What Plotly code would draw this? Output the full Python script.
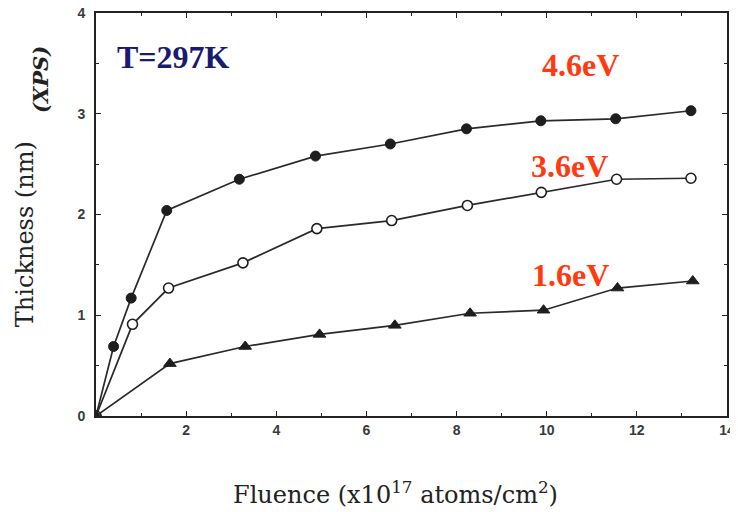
import plotly.graph_objects as go

# Data
x_46 = [0, 0.39, 0.78, 1.57, 3.18, 4.87, 6.53, 8.22, 9.87, 11.53, 13.2]
y_46 = [0, 0.69, 1.17, 2.04, 2.35, 2.58, 2.70, 2.85, 2.93, 2.95, 3.03]

x_36 = [0, 0.81, 1.61, 3.26, 4.90, 6.56, 8.24, 9.88, 11.55, 13.2]
y_36 = [0, 0.91, 1.27, 1.52, 1.86, 1.94, 2.09, 2.22, 2.35, 2.36]

x_16 = [0, 1.64, 3.31, 4.96, 6.63, 8.30, 9.93, 11.57, 13.24]
y_16 = [0, 0.52, 0.69, 0.81, 0.90, 1.02, 1.05, 1.27, 1.34]

x_ticks = [2, 4, 6, 8, 10, 12, 14]
y_ticks = [0, 1, 2, 3, 4]

line_col = "#2a2a2a"

fig = go.Figure()
fig.add_trace(go.Scatter(
    x=x_46, y=y_46, mode="lines+markers",
    line=dict(color=line_col, width=1.7),
    marker=dict(symbol="circle", size=10, color="#1e1e1e", line=dict(color="#1e1e1e", width=1)),
    name="4.6eV"))
fig.add_trace(go.Scatter(
    x=x_36, y=y_36, mode="lines+markers",
    line=dict(color=line_col, width=1.7),
    marker=dict(symbol="circle", size=10, color="white", line=dict(color="#1e1e1e", width=1.6)),
    name="3.6eV"))
fig.add_trace(go.Scatter(
    x=x_16, y=y_16, mode="lines+markers",
    line=dict(color=line_col, width=1.7),
    marker=dict(symbol="triangle-up", size=11, color="#1e1e1e", line=dict(color="#1e1e1e", width=1)),
    name="1.6eV"))

axis_common = dict(
    showline=True, linecolor="#222", linewidth=1.7, mirror="ticks",
    ticks="inside", ticklen=5, tickwidth=1.3, tickcolor="#222",
    showgrid=False, zeroline=False, ticklabeloverflow="allow",
    tickfont=dict(family="Liberation Sans, Arial, sans-serif", size=14, color="#3a3a3a", weight="bold"),
)

fig.update_xaxes(range=[0, 14], tickvals=x_ticks,
                 minor=dict(ticks="inside", dtick=1, ticklen=3, tickcolor="#222", showgrid=False),
                 **axis_common)
fig.update_yaxes(range=[0, 4], tickvals=y_ticks, ticklabelstandoff=6,
                 minor=dict(ticks="inside", dtick=0.5, ticklen=3, tickcolor="#222", showgrid=False),
                 **axis_common)

serif = "DejaVu Serif, serif"
tserif = "Liberation Serif, Times New Roman, serif"

fig.add_annotation(xref="paper", yref="paper", x=-0.112, y=0.452,
                   text="Thickness (nm)", textangle=-90, showarrow=False,
                   font=dict(family=serif, size=24, color="#222"), xanchor="center", yanchor="middle")
fig.add_annotation(xref="paper", yref="paper", x=-0.087, y=0.834,
                   text="<b><i>(XPS)</i></b>", textangle=-90, showarrow=False,
                   font=dict(family=serif, size=21, color="#222"), xanchor="center", yanchor="middle")
fig.add_annotation(xref="paper", yref="paper", x=0.474, y=-0.191,
                   text="Fluence (x10<sup>17</sup> atoms/cm<sup>2</sup>)", showarrow=False,
                   font=dict(family=serif, size=24, color="#222"), xanchor="center", yanchor="middle")

fig.add_annotation(x=1.71, y=3.56, text="<b>T=297K</b>", showarrow=False,
                   font=dict(family=tserif, size=32, color="#1a1a70"))
fig.add_annotation(x=10.76, y=3.48, text="<b>4.6eV</b>", showarrow=False,
                   font=dict(family=tserif, size=32, color="#ff3a10"))
fig.add_annotation(x=10.51, y=2.48, text="<b>3.6eV</b>", showarrow=False,
                   font=dict(family=tserif, size=32, color="#ff3a10"))
fig.add_annotation(x=10.53, y=1.40, text="<b>1.6eV</b>", showarrow=False,
                   font=dict(family=tserif, size=32, color="#ff3a10"))

# The page body adds an 8px offset, so the figure is 8px smaller than the window
fig.update_layout(
    width=730, height=504,
    margin=dict(l=88, r=11, t=5, b=96, autoexpand=False),
    plot_bgcolor="white", paper_bgcolor="white",
    showlegend=False,
)

fig.write_html("out.html")
